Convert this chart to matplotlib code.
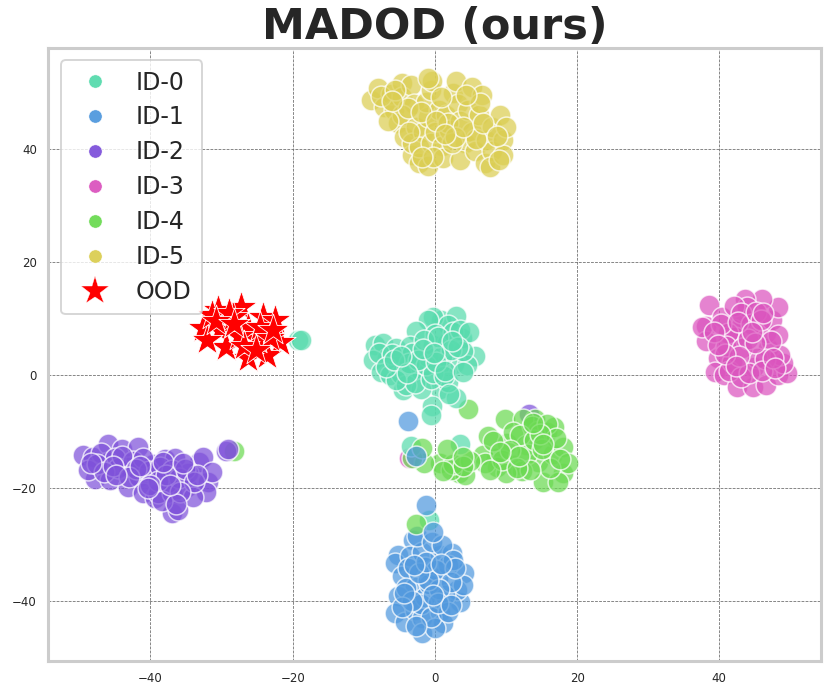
import matplotlib
matplotlib.use("Agg")
import matplotlib.pyplot as plt
from matplotlib.lines import Line2D

# t-SNE coordinates
labels = ["ID-0", "ID-1", "ID-2", "ID-3", "ID-4", "ID-5"]
colors = ["#57DBAD", "#5199DE", "#7F52DA", "#DB54BE", "#6BDA52", "#DBCE52"]

id0_x = [0.9, -0.3, 3.0, 1.8, -1.0, -2.7, -8.4, -7.3, -6.7, -4.4, -8.7, -7.6, -6.3, -4.5, -2.2, -0.3, 1.7,
         3.8, 5.6, 2.7, 0.6, 0.7, -0.4, -0.6, 3.0, -1.9, 1.9, -5.5, -5.2, -3.5, -3.0, -1.0, 0.0, 1.0, 2.5,
         4.5, 4.0, -7.8, -6.0, -4.8, -4.0, -3.2, -2.8, -1.5, -0.5, 0.5, 2.2, 3.6, -5.4, -3.6, -1.2, -0.2,
         1.3, 4.8, 2.0, -19.2, -18.8, -6.9, -5.8, -2.4, 0.2, 3.2, -3.9, -1.7, 1.4, 2.4, -0.1, -4.7, 3.9]
id0_y = [9.7, 10.3, 10.4, 8.8, 9.8, 7.8, 5.4, 5.6, 3.1, 3.2, 2.6, 0.6, 0.0, -2.7, 0.9, 5.3, 5.6,
         6.5, 3.4, 1.9, 1.6, -2.4, -5.5, -7.1, -4.1, -2.4, -1.2, 4.8, 1.7, 5.2, 1.0, 3.2, 7.2, 3.4, 7.6,
         1.8, 4.2, 4.0, 3.8, 0.2, -1.8, 4.0, -1.4, 6.2, -0.6, 6.8, 4.4, 8.0, -0.8, 2.2, 1.8, 0.4,
         -0.2, 7.6, -3.4, 6.3, 6.3, 1.5, 2.6, 2.6, 2.4, 5.0, 0.4, 4.6, 0.8, 6.0, 4.0, 3.4, 0.6]

id1_x = [-3.1, -5.2, -5.6, -3.5, -1.8, 0.7, 2.4, -4.6, 0.4, 4.1, -2.8, -5.2, -5.6, -4.2, -2.8, -1.8,
         -1.8, 0.7, 1.1, 0.0, 3.5, 3.1, 1.4, 3.9, -1.4, -1.4, 1.8, -2.5, -0.4, 1.0, 2.6, -3.8, -0.8, -4.0,
         0.2, 2.2, -2.0, 0.6, -3.2, -0.6, 1.8, -1.0, 2.8, -4.6, -2.2, -1.2, 0.9, 0.4, -3.0, -2.6, 2.3, -0.2, -4.4]
id1_y = [-29.2, -31.9, -33.3, -32.0, -31.3, -31.9, -31.5, -35.6, -35.9, -35.0, -37.5, -39.1, -42.1, -43.7, -41.6, -43.0,
         -45.7, -41.9, -43.9, -44.8, -40.2, -38.0, -38.9, -37.2, -34.0, -39.3, -33.6, -28.5, -29.5, -30.0, -32.8, -34.2, -37.0, -37.6,
         -34.5, -36.6, -40.5, -37.8, -39.9, -42.8, -42.0, -36.2, -34.2, -41.0, -35.0, -33.0, -33.4, -40.4, -33.6, -44.4, -40.6, -39.0, -38.6]

id2_x = [-49.5, -48.1, -46.0, -44.0, -41.8, -46.0, -43.2, -47.8, -48.8, -45.7, -43.2, -41.6, -39.7, -38.0, -36.6, -41.0,
         -39.4, -39.0, -37.0, -36.9, -36.1, -34.9, -33.2, -32.6, -34.7, -31.9, -32.2, -34.0, -31.4, -37.7, -47.0, -45.0,
         -44.5, -42.5, -41.0, -40.2, -38.6, -37.0, -36.0, -35.2, -33.8, -47.5, -46.5, -44.0, -42.0, -39.0, -37.8, -35.8,
         -40.0, -38.4, -36.4, -33.5, 13.2, -48.4, -45.2, -43.0, -41.4, -38.2, -35.4, -37.2, -44.8, -40.4]
id2_y = [-14.2, -14.5, -12.2, -13.0, -12.7, -15.4, -16.3, -18.4, -16.8, -18.6, -19.8, -18.0, -15.8, -14.9, -14.7, -20.9,
         -21.8, -20.9, -20.9, -24.4, -23.9, -19.8, -15.4, -14.5, -17.3, -18.9, -20.7, -21.6, -17.2, -19.1, -13.8, -14.6,
         -16.4, -15.2, -14.6, -17.0, -16.2, -16.8, -18.2, -16.6, -19.0, -15.8, -17.2, -14.4, -16.6, -18.8, -17.6, -20.6,
         -19.4, -22.2, -22.8, -17.6, -6.9, -15.6, -16.0, -18.0, -16.0, -15.4, -15.6, -19.4, -17.6, -20.0]

id3_x = [38.5, 38.1, 38.1, 39.8, 39.4, 40.6, 42.5, 44.7, 46.6, 48.2, 49.5, 49.0, 46.9, 46.6, 47.4, 48.2, 46.0, 43.6,
         43.3, 41.9, 40.4, 41.8, 44.9, 45.3, 43.9, 42.2, 48.2, 48.5, 37.6, 41.2, 42.0, 43.0, 44.4, 45.2, 41.0, 43.2, 44.0,
         45.8, 47.2, 46.4, 40.2, 41.4, 43.0, 44.2, 46.0, 47.6, 42.6, 39.2, 45.0, 42.8, -3.6, 40.8, 44.6, 47.8, 46.2, 42.4, 39.8]
id3_y = [12.4, 8.7, 6.0, 3.0, 0.5, 0.0, -2.1, -2.1, -1.8, 0.0, 0.4, 2.1, 4.8, 7.4, 9.7, 12.0, 13.5, 13.5,
         10.0, 8.1, 10.3, 2.3, 1.4, 3.0, 12.0, 6.7, 7.1, 3.5, 8.6, 7.4, 12.2, 11.0, 9.0, 11.2, 5.2, 4.8, 6.4,
         9.8, 6.0, 2.8, 9.0, 0.8, -0.4, 0.4, 0.8, 3.0, 9.4, 7.6, 5.6, 3.4, -14.6, 3.8, 7.6, 1.2, 11.0, 1.6, 5.4]

id4_x = [9.9, 7.5, 14.1, 12.4, 14.5, 15.7, 18.0, 15.2, 14.5, 16.6, 11.3, 8.6, 6.8, 3.4, 0.7, -1.5, -3.2,
         4.2, 2.2, 8.8, 10.1, 11.0, 18.0, 18.7, 17.3, 12.8, 13.6, 16.8, 15.8, 7.0, 13.0, 16.2, 12.2, 10.0, 2.6, 5.0,
         9.4, 12.0, 14.0, 17.0, 15.0, 13.4, 10.6, 11.6, 4.0, 1.2, 7.8, 8.2, 4.7, 14.8, 13.8, 15.2, 11.8, 9.2, 17.6]
id4_y = [-7.7, -10.8, -7.7, -7.7, -9.9, -10.0, -17.4, -18.9, -15.4, -14.0, -15.9, -14.7, -14.2, -17.4, -15.6, -15.6, -14.7,
         -17.6, -16.8, -16.2, -12.0, -10.0, -12.7, -15.6, -18.9, -12.4, -9.0, -9.2, -8.6, -15.6, -14.0, -16.4, -17.0, -17.4, -15.8, -15.2,
         -15.0, -10.6, -11.4, -11.2, -13.0, -16.8, -13.2, -16.4, -16.0, -17.0, -16.8, -11.6, -6.0, -10.4, -8.4, -12.2, -14.4, -13.6, -14.8]

id5_x = [-9.0, -8.0, -7.2, -6.2, -4.6, -5.8, -4.6, -3.4, -3.0, -5.2, -4.4, -3.2, -2.2, -4.6, -2.6, -3.2, -1.6, -2.2,
         -1.0, -0.6, -1.0, -1.2, -0.6, -0.4, 0.6, 0.0, 1.0, 1.2, 1.6, 2.0, 2.6, 3.0, 3.2, 3.6, 4.2, 3.6, 4.6, 5.2, 5.2,
         5.6, 6.2, 6.6, 7.2, 7.0, 8.0, 8.0, 7.8, 9.2, 9.6, 10.0, 9.6, -6.6, -1.0, 1.8, -0.2, 0.8, 5.8, 6.4, 2.4, 4.4,
         -7.6, -5.6, -3.8, -2.0, 0.2, 2.8, 4.0, 6.8, 8.8, -6.0, -3.6, 9.0, 1.4, -1.8]
id5_y = [48.7, 50.8, 47.5, 49.8, 51.7, 47.0, 49.2, 51.4, 48.0, 44.6, 42.2, 39.0, 37.6, 46.0, 44.0, 41.0, 43.0, 40.4,
         37.0, 41.0, 45.6, 48.4, 50.4, 52.0, 47.0, 43.0, 40.6, 38.4, 46.0, 43.4, 50.0, 52.0, 48.0, 45.0, 41.0, 38.0, 47.0, 51.0, 43.0,
         39.6, 46.0, 49.6, 41.6, 37.6, 44.0, 39.6, 36.8, 46.0, 41.6, 44.0, 39.0, 45.0, 52.6, 44.6, 38.6, 49.2, 41.8, 48.2, 41.0, 49.6,
         49.4, 50.4, 47.2, 46.6, 45.0, 42.2, 44.0, 44.6, 42.4, 48.6, 43.0, 38.0, 42.6, 38.6]

# a few points of other classes that sit on top of or inside other clusters
stray_x = [-3.3, 3.5, -1.8, 1.7, 3.9, -0.8, -2.7, -0.3, -1.3, -2.7, -3.8, -28.3, -29.4, -29.1]
stray_y = [-12.5, -12.2, -12.9, -13.1, -14.5, -25.7, -26.3, -27.8, -23.0, -14.4, -8.1, -13.4, -13.5, -13.1]
stray_class = [0, 0, 4, 4, 4, 0, 4, 1, 1, 1, 1, 4, 2, 2]

ood_x = [-30.5, -27.3, -32.6, -30.2, -29.3, -26.3, -24.2, -22.5, -21.8, -23.6, -26.3, -32.1, -28.4, -31.4, -25.0,
         -29.0, -27.6, -24.6, -23.2, -30.8, -26.8, -25.2, -28.2, -22.8]
ood_y = [11.5, 12.0, 8.3, 8.0, 5.0, 8.3, 10.3, 9.7, 5.8, 3.5, 3.0, 6.2, 10.3, 10.6, 6.4,
         11.0, 7.0, 8.6, 6.6, 9.6, 5.2, 4.4, 9.0, 8.0]

xticks = [-40, -20, 0, 20, 40]
yticks = [-40, -20, 0, 20, 40]

fig = plt.figure(figsize=(8.3, 6.97), dpi=100)
ax = fig.add_axes([48 / 830, 1 - 661 / 697, 773 / 830, 613 / 697])

id_x = [id0_x, id1_x, id2_x, id3_x, id4_x, id5_x]
id_y = [id0_y, id1_y, id2_y, id3_y, id4_y, id5_y]
for i in [3, 2, 1, 4, 0, 5]:
    ax.scatter(id_x[i], id_y[i], s=225, c=colors[i], alpha=0.72, edgecolors="white", linewidths=1.1, zorder=3)
for x, y, k in zip(stray_x, stray_y, stray_class):
    ax.scatter([x], [y], s=225, c=colors[k], alpha=0.72, edgecolors="white", linewidths=1.1, zorder=4)
ax.scatter(ood_x, ood_y, s=560, c="red", marker="*", edgecolors="white", linewidths=0.6, zorder=5)

ax.set_xlim(-54.4, 54.3)
ax.set_ylim(-50.6, 57.9)
ax.set_xticks(xticks)
ax.set_yticks(yticks)
ax.tick_params(length=0, labelsize=8.5, labelcolor="#262626", pad=8)
ax.grid(True, color="#666666", linestyle="--", linewidth=0.55)
ax.set_axisbelow(True)
for s in ax.spines.values():
    s.set_color("#cccccc")
    s.set_linewidth(2.2)

ax.set_title("MADOD (ours)", fontsize=31, fontweight="bold", color="#262626", pad=3)

handles = [Line2D([], [], linestyle="none", marker="o", markersize=9.5, color=c, markeredgecolor="white",
                  markeredgewidth=0.3, alpha=0.95) for c in colors]
handles.append(Line2D([], [], linestyle="none", marker="*", markersize=21, color="red", markeredgecolor="white",
                      markeredgewidth=0.3))
leg = ax.legend(handles, labels + ["OOD"], loc="upper left", bbox_to_anchor=(13 / 773, 1 - 12 / 613), borderaxespad=0,
                fontsize=17, labelspacing=0.46, handletextpad=0.78, borderpad=0.45, handlelength=1.95, frameon=True,
                framealpha=0.8, edgecolor="#cccccc", fancybox=True, labelcolor="#262626")
leg.get_frame().set_linewidth(1.4)
leg.set_zorder(6)

plt.savefig("out.png", dpi=100)
